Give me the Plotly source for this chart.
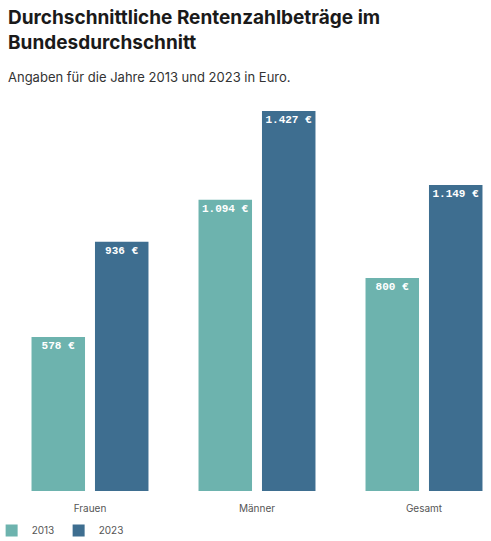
import plotly.graph_objects as go

categories = ["Frauen", "Männer", "Gesamt"]
years = ["2013", "2023"]
values_2013 = [578, 1094, 800]
values_2023 = [936, 1427, 1149]
colors = {"2013": "#6db3ae", "2023": "#3e6e90"}


def euro(v):
    return f"{v:,} €".replace(",", ".")


fig = go.Figure()
for year, vals in zip(years, [values_2013, values_2023]):
    fig.add_trace(go.Bar(
        x=categories,
        y=vals,
        name=year,
        marker=dict(color=colors[year], line=dict(width=0)),
        text=[euro(v) for v in vals],
        textposition="inside",
        insidetextanchor="end",
        textangle=0,
        textfont=dict(family="Liberation Mono, DejaVu Sans Mono, monospace",
                      size=11, color="white", weight="bold"),
        hoverinfo="skip",
    ))

# plot area: x 6..485 px, y 100..491 px
def py(px):
    return (491 - px) / 391


fig.update_layout(
    width=491,
    height=541,
    barmode="group",
    bargap=0.24,
    bargroupgap=0.157,
    plot_bgcolor="white",
    paper_bgcolor="white",
    margin=dict(l=6, r=6, t=100, b=50, autoexpand=False),
    font=dict(family="Inter, Roboto, sans-serif", color="#333"),
    annotations=[
        dict(
            text="<b>Durchschnittliche Rentenzahlbeträge im<br>Bundesdurchschnitt</b>",
            xref="paper", yref="paper", x=0, y=py(4),
            xanchor="left", yanchor="top", showarrow=False, align="left",
            font=dict(family="Inter, Roboto, sans-serif", size=19, color="#1a1a1a"),
        ),
        dict(
            text="Angaben für die Jahre 2013 und 2023 in Euro.",
            xref="paper", yref="paper", x=0, y=py(67),
            xanchor="left", yanchor="top", showarrow=False,
            font=dict(family="Inter, Roboto, sans-serif", size=13, color="#333"),
        ),
    ],
    xaxis=dict(
        range=[-(90 - 6) / 167, (485 - 90) / 167],
        showgrid=False, zeroline=False, showline=False, ticks="",
        automargin=False, ticklabelstandoff=10,
        tickfont=dict(size=10, color="#555"),
    ),
    yaxis=dict(
        range=[0, 391 / 0.2663],
        showgrid=False, zeroline=False, showticklabels=False,
        automargin=False,
    ),
    showlegend=True,
    legend=dict(
        orientation="h", x=-0.03, xanchor="left", y=py(516), yanchor="top",
        font=dict(size=10, color="#555"),
        itemwidth=30, traceorder="normal", entrywidth=22,
    ),
)

# the page body has a default 8px margin; drop it so the figure fills the window
fig.write_html("out.html", config={"displayModeBar": False},
               post_script="document.body.style.margin='0';")
